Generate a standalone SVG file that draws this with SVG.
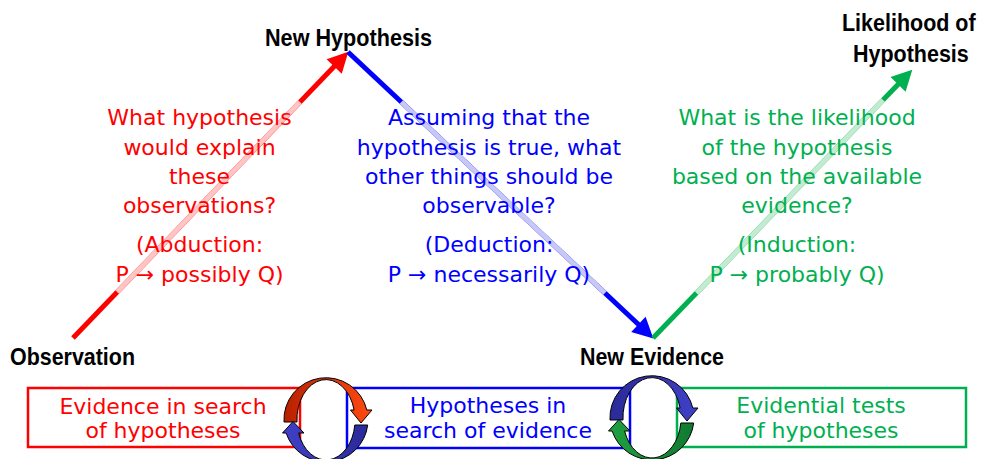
<svg xmlns="http://www.w3.org/2000/svg" width="981" height="459" viewBox="0 0 981 459">
<style>
.lbl{font-family:"Liberation Sans",Arial,sans-serif;font-weight:bold;font-size:24px;fill:#000}
.t{font-family:"DejaVu Sans","Noto Sans",sans-serif;font-size:22px;text-anchor:middle}
.r{fill:#ff0000}.b{fill:#0000ff}.g{fill:#00b050}
.box{fill:none;stroke-width:2.5}
.cyc{stroke:#000;stroke-width:1}
</style>
<defs>
<marker id="ar" markerUnits="userSpaceOnUse" markerWidth="22" markerHeight="22" viewBox="0 -11 21 22" refX="10" refY="0" orient="auto"><path d="M0,-10.5 L20.5,0 L0,10.5 z" fill="#ff0000"/></marker>
<marker id="ab" markerUnits="userSpaceOnUse" markerWidth="22" markerHeight="22" viewBox="0 -11 21 22" refX="10" refY="0" orient="auto"><path d="M0,-10.5 L20.5,0 L0,10.5 z" fill="#0000ff"/></marker>
<marker id="ag" markerUnits="userSpaceOnUse" markerWidth="22" markerHeight="22" viewBox="0 -11 21 22" refX="10" refY="0" orient="auto"><path d="M0,-10.5 L20.5,0 L0,10.5 z" fill="#00b050"/></marker>
<linearGradient id="gRed" x1="0" y1="0" x2="1" y2="0"><stop offset="0" stop-color="#b82000"/><stop offset="1" stop-color="#ff4a10"/></linearGradient>
<linearGradient id="gBlue" x1="0" y1="0" x2="1" y2="0"><stop offset="0" stop-color="#4040c8"/><stop offset="1" stop-color="#2a2a9a"/></linearGradient>
<linearGradient id="gBlue2" x1="0" y1="0" x2="1" y2="0"><stop offset="0" stop-color="#2a2a98"/><stop offset="1" stop-color="#4040c8"/></linearGradient>
<linearGradient id="gGreen" x1="0" y1="0" x2="1" y2="0"><stop offset="0" stop-color="#20a040"/><stop offset="1" stop-color="#107a30"/></linearGradient>
<path id="topArc" d="M284,422 A42 42 0 0 1 366.8,410 L372,410 L361,423 L350.5,410 L354.1,410 A29 40 0 0 0 297,422 Z"/>
<path id="botArc" d="M367.7,425 A42 42 0 0 1 286.1,433 L282.5,433 L293,421.5 L304,433 L298.6,433 A29 40 0 0 0 354.8,425 Z"/>
</defs>
<rect width="981" height="459" fill="#fff"/>

<g id="connectors">
<line x1="73" y1="338" x2="341.1" y2="59.2" stroke="#ff0000" stroke-width="5" marker-end="url(#ar)"/>
<line x1="117.2" y1="292" x2="299.9" y2="102" stroke="#ffc4c4" stroke-width="5"/>
<line x1="348" y1="52" x2="645.7" y2="331.2" stroke="#0000ff" stroke-width="5" marker-end="url(#ab)"/>
<line x1="401.3" y1="102" x2="605" y2="293" stroke="#c8c8f6" stroke-width="5"/>
<line x1="653" y1="338" x2="905" y2="77.2" stroke="#00b050" stroke-width="5" marker-end="url(#ag)"/>
<line x1="696.5" y1="293" x2="883" y2="100" stroke="#c2ebd0" stroke-width="5"/>
</g>

<g id="new-hypothesis"><text class="lbl" x="265" y="46" textLength="167" lengthAdjust="spacingAndGlyphs">New Hypothesis</text></g>
<g id="observation"><text class="lbl" x="10" y="365" textLength="125" lengthAdjust="spacingAndGlyphs">Observation</text></g>
<g id="new-evidence"><text class="lbl" x="580" y="365" textLength="144" lengthAdjust="spacingAndGlyphs">New Evidence</text></g>
<g id="likelihood">
<text class="lbl" transform="translate(842,31) scale(0.895,1)" x="0" y="0">Likelihood of</text>
<text class="lbl" transform="translate(853,62) scale(0.895,1)" x="0" y="0">Hypothesis</text>
</g>

<g id="abduction" class="t r">
<text x="199.5" y="125">What hypothesis</text>
<text x="199.5" y="154.5">would explain</text>
<text x="199.5" y="184">these</text>
<text x="199.5" y="213">observations?</text>
<text x="199.5" y="252">(Abduction:</text>
<text x="199.5" y="282">P → possibly Q)</text>
</g>
<g id="deduction" class="t b">
<text x="489" y="125">Assuming that the</text>
<text x="489" y="154.5">hypothesis is true, what</text>
<text x="489" y="184">other things should be</text>
<text x="489" y="213">observable?</text>
<text x="489" y="252">(Deduction:</text>
<text x="489" y="282">P → necessarily Q)</text>
</g>
<g id="induction" class="t g">
<text x="797" y="125">What is the likelihood</text>
<text x="797" y="154.5">of the hypothesis</text>
<text x="797" y="184">based on the available</text>
<text x="797" y="213">evidence?</text>
<text x="797" y="252">(Induction:</text>
<text x="797" y="282">P → probably Q)</text>
</g>

<g id="box-evidence">
<rect class="box" x="28" y="388" width="272" height="59" stroke="#ff0000"/>
<text class="t r" x="163" y="414">Evidence in search</text>
<text class="t r" x="163" y="438">of hypotheses</text>
</g>
<g id="box-hypotheses">
<rect class="box" x="347" y="388" width="283" height="60" stroke="#0000ff"/>
<text class="t b" x="488" y="413">Hypotheses in</text>
<text class="t b" x="488" y="438">search of evidence</text>
</g>
<g id="box-tests">
<rect class="box" x="677" y="388" width="289" height="59" stroke="#00b050"/>
<text class="t g" x="821" y="413">Evidential tests</text>
<text class="t g" x="821" y="438">of hypotheses</text>
</g>

<g id="cycle-left">
<use href="#topArc" class="cyc" fill="url(#gRed)"/>
<use href="#botArc" class="cyc" fill="url(#gBlue)"/>
</g>
<g id="cycle-right" transform="translate(326,-2)">
<use href="#topArc" class="cyc" fill="url(#gBlue2)"/>
<use href="#botArc" class="cyc" fill="url(#gGreen)"/>
</g>
</svg>
